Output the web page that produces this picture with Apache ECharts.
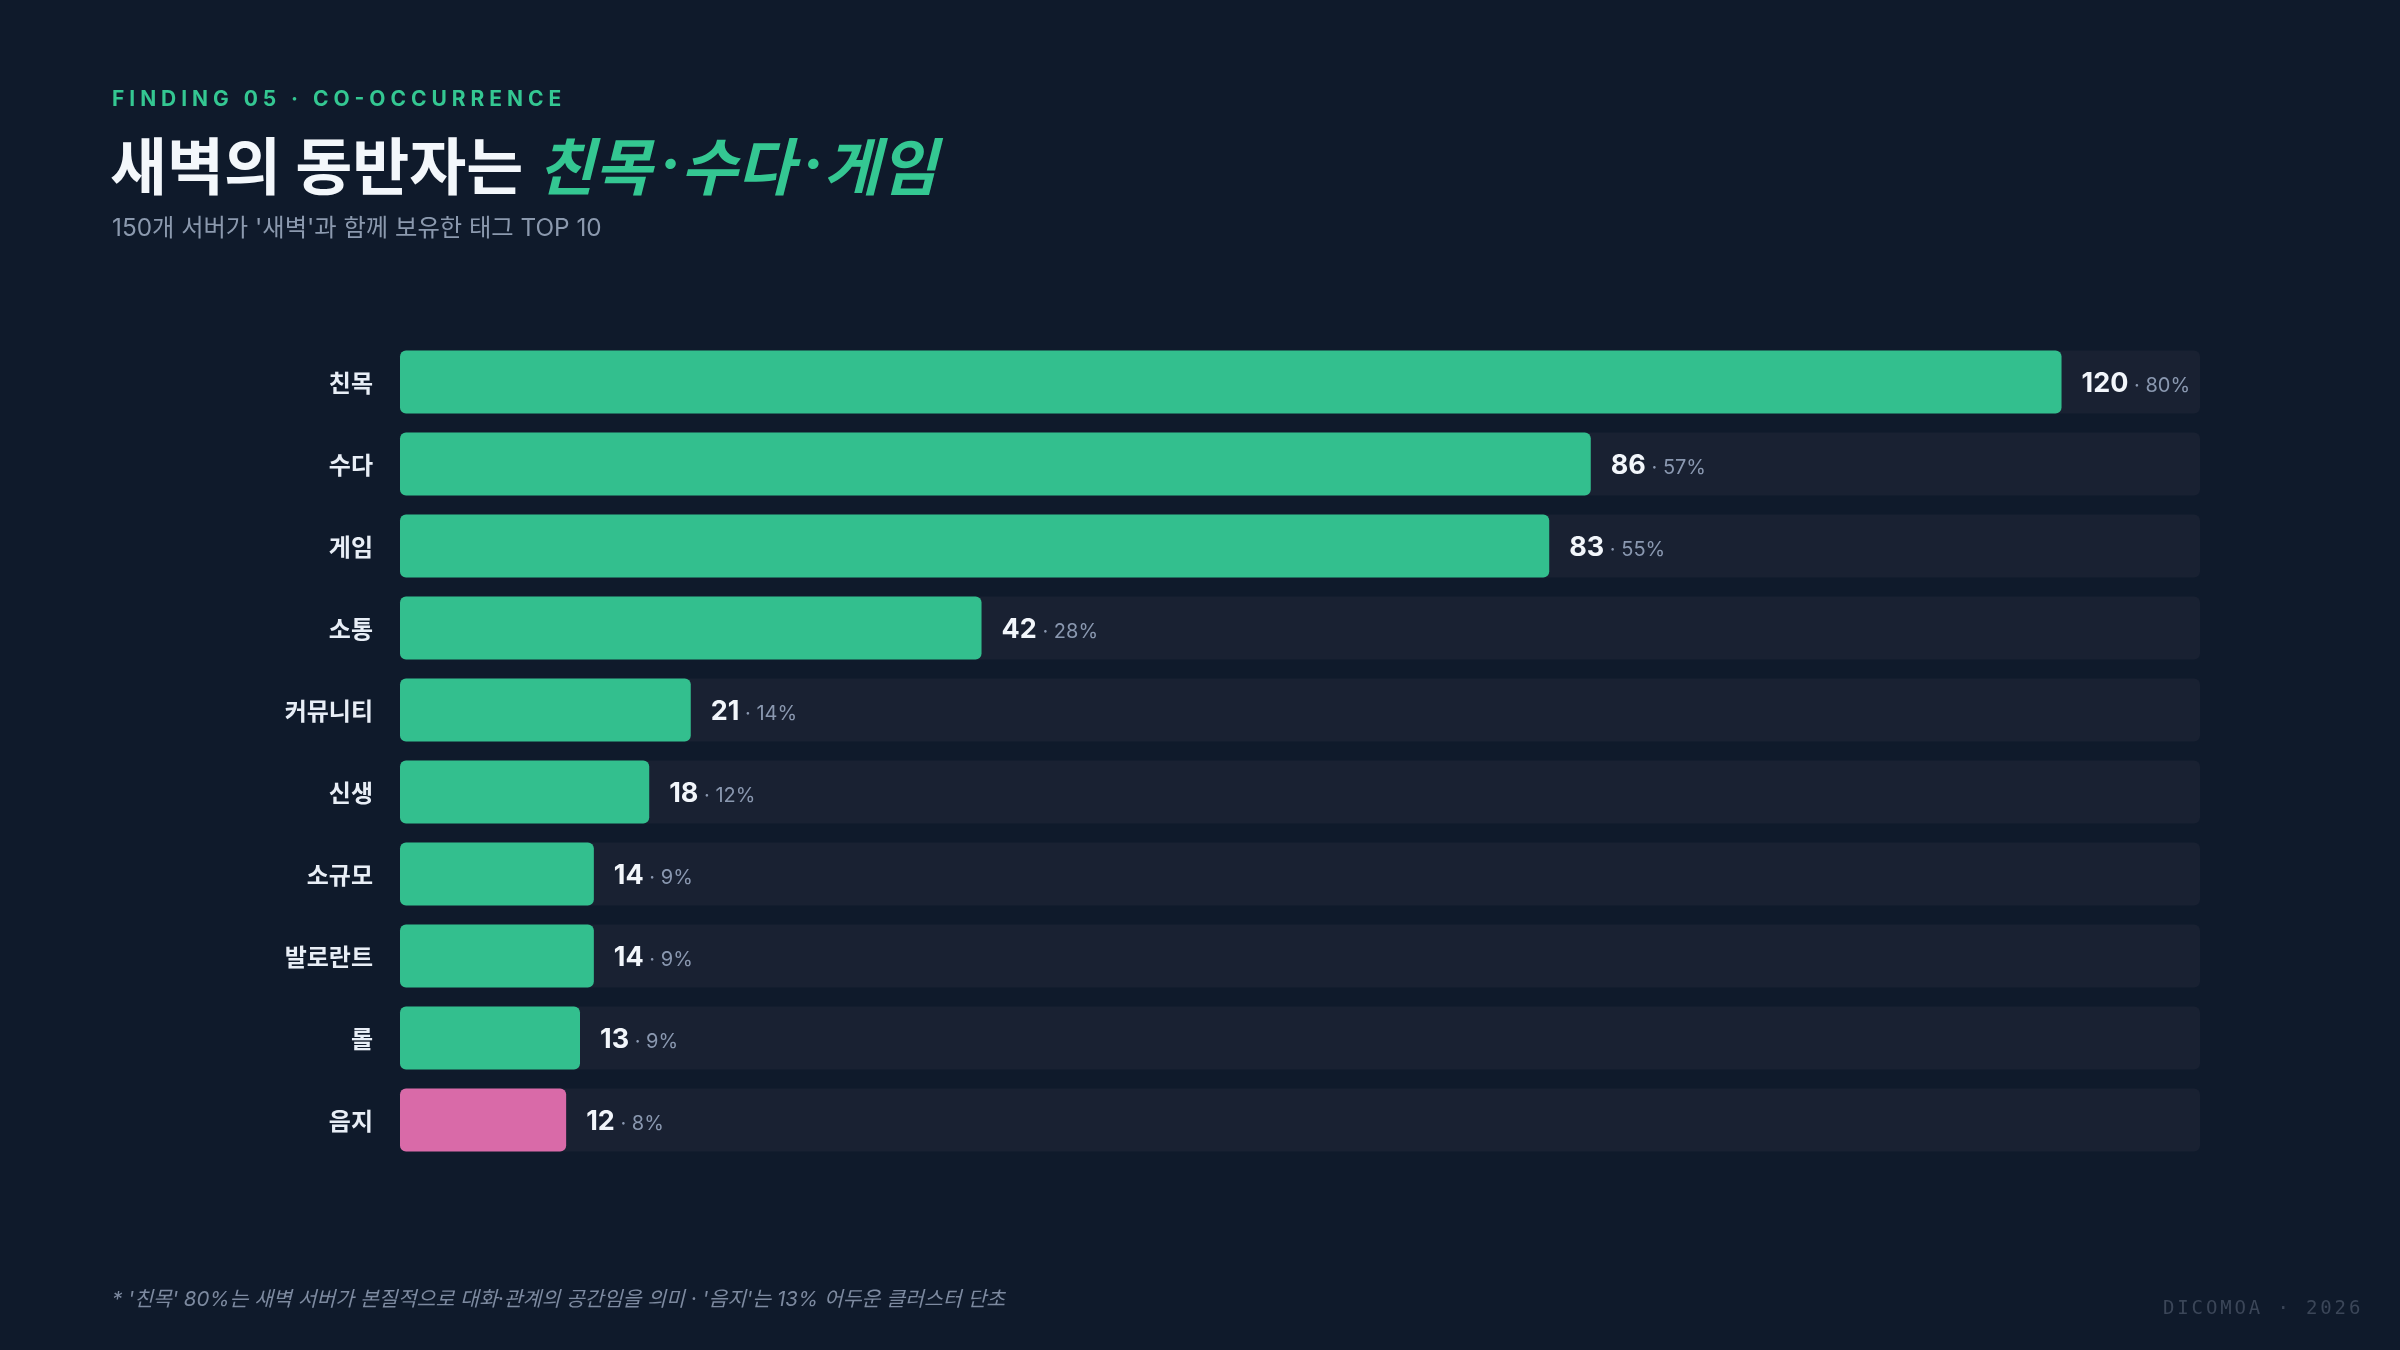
<!DOCTYPE html>
<html>
<head>
<meta charset="utf-8">
<script src="https://cdn.jsdelivr.net/npm/echarts@6/dist/echarts.min.js"></script>
<style>
html,body{margin:0;padding:0;background:#0f1a2b;}
#chart{width:2400px;height:1350px;}
</style>
</head>
<body>
<div id="chart"></div>
<script>
const categories = ['친목','수다','게임','소통','커뮤니티','신생','소규모','발로란트','롤','음지'];
const counts = [120, 86, 83, 42, 21, 18, 14, 14, 13, 12];
const percents = [80, 57, 55, 28, 14, 12, 9, 9, 9, 8];
const highlight = ['음지'];
const axisMax = 130;

const eyebrow = 'FINDING 05 · CO-OCCURRENCE';
const titleMain = '새벽의 동반자는 ';
const titleAccent = ['친목', '수다', '게임'];
const subtitle = "150개 서버가 '새벽'과 함께 보유한 태그 TOP 10";
const footnote = "* '친목' 80%는 새벽 서버가 본질적으로 대화·관계의 공간임을 의미 · '음지'는 13% 어두운 클러스터 단초";
const brand = 'DICOMOA · 2026';

const GREEN = '#33bf8e', PINK = '#d96aa8', TRACK = '#192132';
const SANS = "Inter, 'Noto Sans CJK KR', sans-serif";
const KR = "'Noto Sans CJK KR', sans-serif";

const chart = echarts.init(document.getElementById('chart'));

const brandEls = brand.split('').map((ch, i) => ({
  type: 'text', x: 2163 + i * 14.3, y: 1309,
  style: { text: ch, font: "19px 'DejaVu Sans Mono', monospace", fill: '#3b4658', textVerticalAlign: 'middle' }
}));

const accentRich = titleAccent.map(w => '{b|' + w + '}').join('{d|·}');

chart.setOption({
  backgroundColor: '#0f1a2b',
  animation: false,
  grid: { left: 400, top: 341, width: 1800, height: 820, containLabel: false },
  xAxis: { type: 'value', min: 0, max: axisMax, show: false },
  yAxis: {
    type: 'category', data: categories, inverse: true,
    axisLine: { show: false }, axisTick: { show: false },
    axisLabel: {
      margin: 27,
      formatter: v => '{n|' + v + '}',
      rich: { n: { color: '#e8eef6', fontSize: 24, fontWeight: 'bold', fontFamily: SANS, padding: [6, 0, 0, 0] } }
    }
  },
  series: [{
    type: 'bar',
    data: counts,
    barWidth: 63,
    showBackground: true,
    backgroundStyle: { color: TRACK, borderRadius: 6 },
    itemStyle: {
      borderRadius: 6,
      color: p => highlight.includes(categories[p.dataIndex]) ? PINK : GREEN
    },
    label: {
      show: true, position: 'right', distance: 20,
      formatter: p => '{v|' + p.value + '}{p| · ' + percents[p.dataIndex] + '%}',
      rich: {
        v: { fontSize: 27, fontWeight: 'bold', color: '#f2f6fb', fontFamily: SANS, padding: [4, 0, 0, 0] },
        p: { fontSize: 20, color: '#8a98b0', fontFamily: SANS, padding: [7, 0, 0, 0] }
      }
    }
  }],
  graphic: [
    { type: 'text', x: 112, y: 100,
      style: { text: eyebrow.split('').join('\u2009\u200A'), font: "bold 21px Inter, sans-serif", fill: '#34c792', textVerticalAlign: 'middle' } },
    { type: 'text', x: 110, y: 166,
      style: {
        text: '{a|' + titleMain + '}' + accentRich,
        textVerticalAlign: 'middle',
        rich: {
          a: { fontSize: 62, fontWeight: 'bold', fill: '#f3f7fb', fontFamily: KR },
          b: { fontSize: 62, fontWeight: 'bold', fontStyle: 'italic', fill: '#34c792', fontFamily: KR },
          d: { fontSize: 62, fontWeight: 'bold', fontStyle: 'italic', fill: '#34c792', fontFamily: "Inter, sans-serif", padding: [0, 0, 0, 8] }
        }
      } },
    { type: 'text', x: 112, y: 229,
      style: { text: subtitle, font: "24.3px Inter, 'Noto Sans CJK KR', sans-serif", fill: '#8b99ae', textVerticalAlign: 'middle' } },
    { type: 'text', x: 112, y: 1300,
      style: { text: footnote, font: "italic 20.5px Inter, 'Noto Sans CJK KR', sans-serif", fill: '#7d8aa0', textVerticalAlign: 'middle' } }
  ].concat(brandEls)
});
</script>
</body>
</html>
